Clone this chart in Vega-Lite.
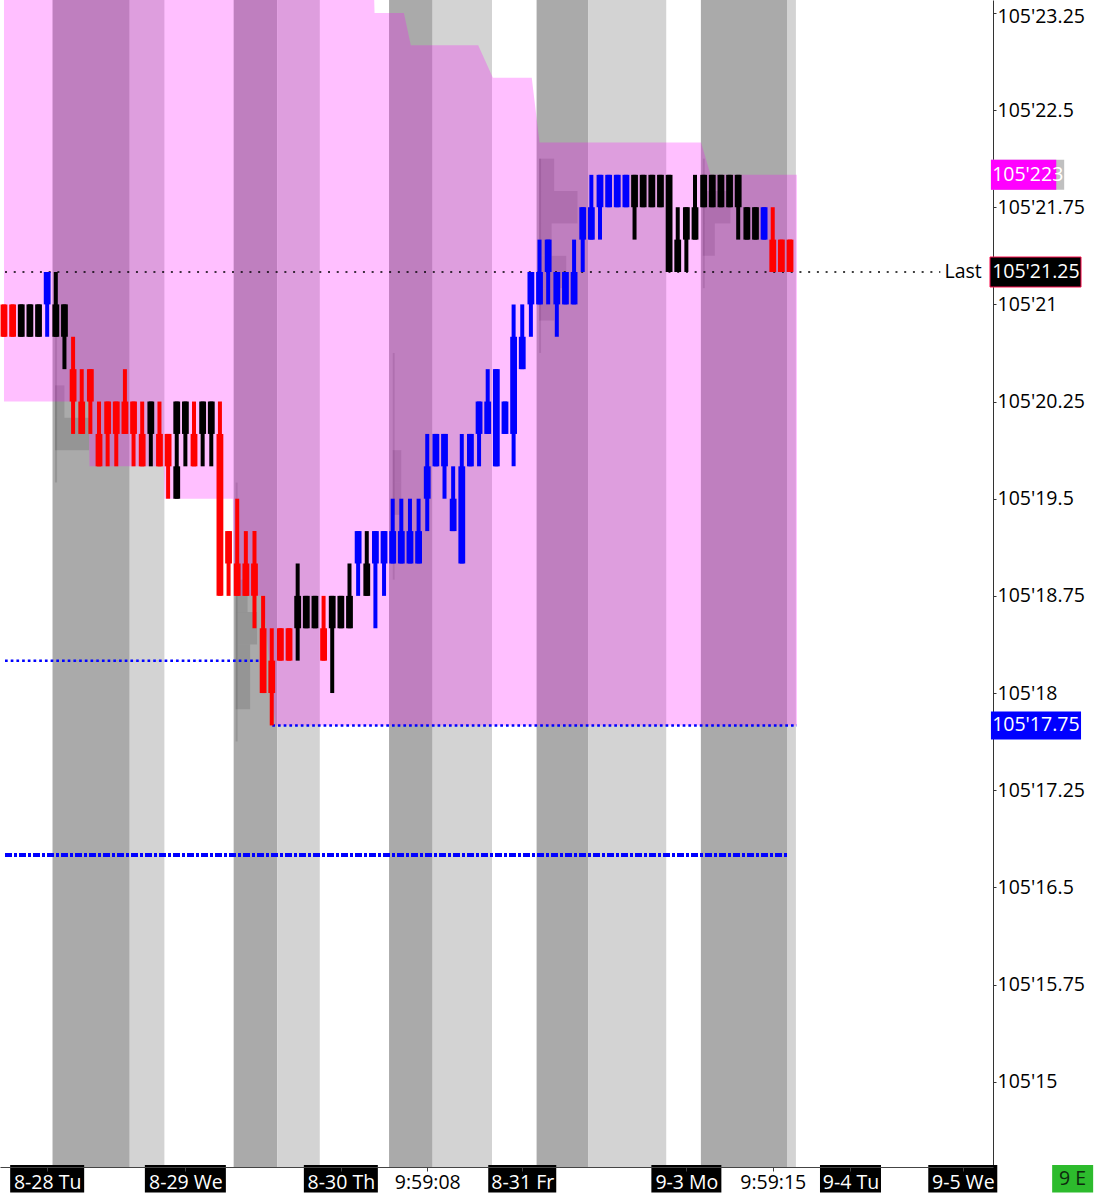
{
"$schema": "https://vega.github.io/schema/vega-lite/v6.json",
"width": 993,
"height": 1167,
"autosize": {"type": "none"},
"padding": {"left": 0, "top": 0, "right": 108, "bottom": 33},
"background": "white",
"config": {"view": {"stroke": null}, "font": "Open Sans"},
"datasets": {
"bands": [{"k0":5.62,"k1":14.56,"shade":"dark"},{"k0":14.56,"k1":18.57,"shade":"light"},{"k0":26.59,"k1":31.63,"shade":"dark"},{"k0":31.63,"k1":36.56,"shade":"light"},{"k0":44.58,"k1":49.63,"shade":"dark"},{"k0":49.63,"k1":56.5,"shade":"light"},{"k0":61.66,"k1":67.62,"shade":"dark"},{"k0":67.62,"k1":76.67,"shade":"light"},{"k0":80.68,"k1":90.65,"shade":"dark"},{"k0":90.65,"k1":91.68,"shade":"light"}],
"ghost": [{"k0":5.9,"k1":6.15,"p0":21.125,"p1":19.625},{"k0":5.9,"k1":7.0,"p0":20.375,"p1":20.125},{"k0":5.9,"k1":9.86,"p0":20.125,"p1":19.875},
{"k0":26.82,"k1":27.05,"p0":19.625,"p1":17.625},{"k0":26.82,"k1":28.2,"p0":18.875,"p1":18.625},{"k0":26.82,"k1":29.3,"p0":18.625,"p1":18.375},{"k0":26.82,"k1":28.5,"p0":18.375,"p1":18.125},{"k0":26.82,"k1":28.5,"p0":18.125,"p1":17.875},
{"k0":45.0,"k1":45.23,"p0":20.625,"p1":18.875},{"k0":45.0,"k1":46.0,"p0":19.875,"p1":19.625},{"k0":45.0,"k1":46.0,"p0":19.625,"p1":19.375},
{"k0":61.95,"k1":62.18,"p0":22.125,"p1":20.625},{"k0":61.95,"k1":63.7,"p0":22.125,"p1":21.875},{"k0":61.95,"k1":66.4,"p0":21.875,"p1":21.625},{"k0":61.95,"k1":63.4,"p0":21.625,"p1":21.375},{"k0":61.95,"k1":65.1,"p0":21.375,"p1":21.125},{"k0":61.95,"k1":63.7,"p0":21.125,"p1":20.875},
{"k0":80.9,"k1":81.13,"p0":22.125,"p1":21.125},{"k0":80.9,"k1":84.1,"p0":21.875,"p1":21.625},{"k0":80.9,"k1":82.3,"p0":21.625,"p1":21.375}],
"range": [{"k":0,"top":23.5,"bot":20.25},{"k":9.8,"top":23.5,"bot":20.25},{"k":9.9,"top":23.5,"bot":19.75},{"k":18.5,"top":23.5,"bot":19.75},{"k":18.6,"top":23.5,"bot":19.5},{"k":26.5,"top":23.5,"bot":19.5},{"k":26.6,"top":23.5,"bot":18.75},{"k":30.0,"top":23.5,"bot":18.75},{"k":31.4,"top":23.5,"bot":17.75},{"k":42.8,"top":23.5,"bot":17.75},{"k":42.9,"top":23.25,"bot":17.75},{"k":46.3,"top":23.25,"bot":17.75},{"k":47.1,"top":23,"bot":17.75},{"k":54.9,"top":23,"bot":17.75},{"k":56.6,"top":22.75,"bot":17.75},{"k":61.1,"top":22.75,"bot":17.75},{"k":62,"top":22.25,"bot":17.75},{"k":80.7,"top":22.25,"bot":17.75},{"k":81.8,"top":22,"bot":17.75},{"k":91.8,"top":22,"bot":17.75}],
"levels": [{"name":"last","k0":0.118,"k1":108.4,"p":21.25},{"name":"dot","k0":0.118,"k1":29.57,"p":18.25},{"name":"dot","k0":31.06,"k1":91.8,"p":17.75},{"name":"dashdot","k0":0.118,"k1":90.65,"p":16.75}],
"bars": [
{"k":0,"d":"dn","lo":20.75,"hi":21},{"k":1,"d":"dn","lo":20.75,"hi":21},{"k":2,"d":"nt","lo":20.75,"hi":21},{"k":3,"d":"nt","lo":20.75,"hi":21},{"k":4,"d":"nt","lo":20.75,"hi":21},
{"k":5,"d":"up","lo":20.75,"hi":21.25},{"k":6,"d":"nt","lo":20.75,"hi":21.25},{"k":7,"d":"nt","lo":20.5,"hi":21},{"k":8,"d":"dn","lo":20,"hi":20.75},{"k":9,"d":"dn","lo":20,"hi":20.5},
{"k":10,"d":"dn","lo":20,"hi":20.5},{"k":11,"d":"dn","lo":19.75,"hi":20.25},{"k":12,"d":"dn","lo":19.75,"hi":20.25},{"k":13,"d":"dn","lo":19.75,"hi":20.25},{"k":14,"d":"dn","lo":20,"hi":20.5},
{"k":15,"d":"dn","lo":19.75,"hi":20.25},{"k":16,"d":"dn","lo":19.75,"hi":20.25},{"k":17,"d":"nt","lo":19.75,"hi":20.25},{"k":18,"d":"dn","lo":19.75,"hi":20.25},{"k":19,"d":"dn","lo":19.5,"hi":20},
{"k":20,"d":"nt","lo":19.5,"hi":20.25},{"k":21,"d":"nt","lo":19.75,"hi":20.25},{"k":22,"d":"dn","lo":19.75,"hi":20.25},{"k":23,"d":"nt","lo":19.75,"hi":20.25},{"k":24,"d":"nt","lo":19.75,"hi":20.25},
{"k":25,"d":"dn","lo":18.75,"hi":20.25},{"k":26,"d":"dn","lo":18.75,"hi":19.25},{"k":27,"d":"dn","lo":18.75,"hi":19.5},{"k":28,"d":"dn","lo":18.75,"hi":19.25},{"k":29,"d":"dn","lo":18.5,"hi":19.25},
{"k":30,"d":"dn","lo":18,"hi":18.75},{"k":31,"d":"dn","lo":17.75,"hi":18.5},{"k":32,"d":"dn","lo":18.25,"hi":18.5},{"k":33,"d":"dn","lo":18.25,"hi":18.5},{"k":34,"d":"nt","lo":18.25,"hi":19},
{"k":35,"d":"nt","lo":18.5,"hi":18.75},{"k":36,"d":"nt","lo":18.5,"hi":18.75},{"k":37,"d":"dn","lo":18.25,"hi":18.75},{"k":38,"d":"nt","lo":18,"hi":18.75},{"k":39,"d":"nt","lo":18.5,"hi":18.75},
{"k":40,"d":"nt","lo":18.5,"hi":19},{"k":41,"d":"up","lo":18.75,"hi":19.25},{"k":42,"d":"nt","lo":18.75,"hi":19.25},{"k":43,"d":"up","lo":18.5,"hi":19.25},{"k":44,"d":"up","lo":18.75,"hi":19.25},
{"k":45,"d":"up","lo":19,"hi":19.5},{"k":46,"d":"up","lo":19,"hi":19.5},{"k":47,"d":"up","lo":19,"hi":19.5},{"k":48,"d":"up","lo":19,"hi":19.5},{"k":49,"d":"up","lo":19.25,"hi":20},
{"k":50,"d":"up","lo":19.75,"hi":20},{"k":51,"d":"up","lo":19.5,"hi":20},{"k":52,"d":"up","lo":19.25,"hi":19.75},{"k":53,"d":"up","lo":19,"hi":20},{"k":54,"d":"up","lo":19.75,"hi":20},
{"k":55,"d":"up","lo":19.75,"hi":20.25},{"k":56,"d":"up","lo":20,"hi":20.5},{"k":57,"d":"up","lo":19.75,"hi":20.5},{"k":58,"d":"up","lo":20,"hi":20.25},{"k":59,"d":"up","lo":19.75,"hi":21},
{"k":60,"d":"up","lo":20.5,"hi":21},{"k":61,"d":"up","lo":20.75,"hi":21.25},{"k":62,"d":"up","lo":21,"hi":21.5},{"k":63,"d":"up","lo":21,"hi":21.5},{"k":64,"d":"up","lo":20.75,"hi":21.25},
{"k":65,"d":"up","lo":21,"hi":21.25},{"k":66,"d":"up","lo":21,"hi":21.5},{"k":67,"d":"up","lo":21.25,"hi":21.75},{"k":68,"d":"up","lo":21.5,"hi":22},{"k":69,"d":"up","lo":21.5,"hi":22},
{"k":70,"d":"up","lo":21.75,"hi":22},{"k":71,"d":"up","lo":21.75,"hi":22},{"k":72,"d":"up","lo":21.75,"hi":22},{"k":73,"d":"nt","lo":21.5,"hi":22},{"k":74,"d":"nt","lo":21.75,"hi":22},
{"k":75,"d":"nt","lo":21.75,"hi":22},{"k":76,"d":"nt","lo":21.75,"hi":22},{"k":77,"d":"nt","lo":21.25,"hi":22},{"k":78,"d":"nt","lo":21.25,"hi":21.75},{"k":79,"d":"nt","lo":21.25,"hi":21.75},
{"k":80,"d":"nt","lo":21.5,"hi":22},{"k":81,"d":"nt","lo":21.75,"hi":22},{"k":82,"d":"nt","lo":21.75,"hi":22},{"k":83,"d":"nt","lo":21.75,"hi":22},{"k":84,"d":"nt","lo":21.75,"hi":22},
{"k":85,"d":"nt","lo":21.5,"hi":22},{"k":86,"d":"nt","lo":21.5,"hi":21.75},{"k":87,"d":"nt","lo":21.5,"hi":21.75},{"k":88,"d":"up","lo":21.5,"hi":21.75},{"k":89,"d":"dn","lo":21.25,"hi":21.75},
{"k":90,"d":"dn","lo":21.25,"hi":21.5},{"k":91,"d":"dn","lo":21.25,"hi":21.5}],
"bodies": [
{"k":0,"d":"dn","b0":21,"b1":20.75},{"k":1,"d":"dn","b0":21,"b1":20.75},{"k":2,"d":"nt","b0":21,"b1":20.75},{"k":3,"d":"nt","b0":21,"b1":20.75},{"k":4,"d":"nt","b0":21,"b1":20.75},
{"k":5,"d":"up","b0":21.25,"b1":21},{"k":6,"d":"nt","b0":21,"b1":20.75},{"k":7,"d":"nt","b0":21,"b1":20.75},{"k":8,"d":"dn","b0":20.5,"b1":20.25},{"k":9,"d":"dn","b0":20.25,"b1":20},
{"k":10,"d":"dn","b0":20.5,"b1":20.25},{"k":11,"d":"dn","b0":20,"b1":19.75},{"k":12,"d":"dn","b0":20.25,"b1":20},{"k":13,"d":"dn","b0":20.25,"b1":20},{"k":14,"d":"dn","b0":20.25,"b1":20},
{"k":15,"d":"dn","b0":20.25,"b1":20},{"k":16,"d":"dn","b0":20,"b1":19.75},{"k":17,"d":"nt","b0":20.25,"b1":20},{"k":18,"d":"dn","b0":20,"b1":19.75},{"k":19,"d":"dn","b0":20,"b1":19.75},
{"k":20,"d":"nt","b0":20.25,"b1":20},{"k":20,"d":"nt","b0":19.75,"b1":19.5},{"k":21,"d":"nt","b0":20.25,"b1":20},{"k":22,"d":"dn","b0":20,"b1":19.75},{"k":23,"d":"nt","b0":20.25,"b1":20},{"k":24,"d":"nt","b0":20.25,"b1":20},
{"k":25,"d":"dn","b0":20,"b1":18.75},{"k":26,"d":"dn","b0":19.25,"b1":19},{"k":27,"d":"dn","b0":19,"b1":18.75},{"k":28,"d":"dn","b0":19,"b1":18.75},{"k":29,"d":"dn","b0":19,"b1":18.75},
{"k":30,"d":"dn","b0":18.5,"b1":18},{"k":31,"d":"dn","b0":18.25,"b1":18},{"k":32,"d":"dn","b0":18.5,"b1":18.25},{"k":33,"d":"dn","b0":18.5,"b1":18.25},{"k":34,"d":"nt","b0":18.75,"b1":18.5},
{"k":35,"d":"nt","b0":18.75,"b1":18.5},{"k":36,"d":"nt","b0":18.75,"b1":18.5},{"k":37,"d":"dn","b0":18.5,"b1":18.25},{"k":38,"d":"nt","b0":18.75,"b1":18.5},{"k":39,"d":"nt","b0":18.75,"b1":18.5},
{"k":40,"d":"nt","b0":18.75,"b1":18.5},{"k":41,"d":"up","b0":19.25,"b1":19},{"k":42,"d":"nt","b0":19,"b1":18.75},{"k":43,"d":"up","b0":19.25,"b1":19},{"k":44,"d":"up","b0":19.25,"b1":19},
{"k":45,"d":"up","b0":19.25,"b1":19},{"k":46,"d":"up","b0":19.25,"b1":19},{"k":47,"d":"up","b0":19.25,"b1":19},{"k":48,"d":"up","b0":19.25,"b1":19},{"k":49,"d":"up","b0":19.75,"b1":19.5},
{"k":50,"d":"up","b0":20,"b1":19.75},{"k":51,"d":"up","b0":20,"b1":19.75},{"k":52,"d":"up","b0":19.5,"b1":19.25},{"k":53,"d":"up","b0":19.75,"b1":19},{"k":54,"d":"up","b0":20,"b1":19.75},
{"k":55,"d":"up","b0":20.25,"b1":20},{"k":56,"d":"up","b0":20.25,"b1":20},{"k":57,"d":"up","b0":20.5,"b1":19.75},{"k":58,"d":"up","b0":20.25,"b1":20},{"k":59,"d":"up","b0":20.75,"b1":20},
{"k":60,"d":"up","b0":20.75,"b1":20.5},{"k":61,"d":"up","b0":21.25,"b1":21},{"k":62,"d":"up","b0":21.25,"b1":21},{"k":63,"d":"up","b0":21.5,"b1":21.25},{"k":64,"d":"up","b0":21.25,"b1":21},
{"k":65,"d":"up","b0":21.25,"b1":21},{"k":66,"d":"up","b0":21.25,"b1":21},{"k":67,"d":"up","b0":21.75,"b1":21.5},{"k":68,"d":"up","b0":21.75,"b1":21.5},{"k":69,"d":"up","b0":22,"b1":21.75},
{"k":70,"d":"up","b0":22,"b1":21.75},{"k":71,"d":"up","b0":22,"b1":21.75},{"k":72,"d":"up","b0":22,"b1":21.75},{"k":73,"d":"nt","b0":22,"b1":21.75},{"k":74,"d":"nt","b0":22,"b1":21.75},
{"k":75,"d":"nt","b0":22,"b1":21.75},{"k":76,"d":"nt","b0":22,"b1":21.75},{"k":77,"d":"nt","b0":22,"b1":21.25},{"k":78,"d":"nt","b0":21.5,"b1":21.25},{"k":79,"d":"nt","b0":21.75,"b1":21.5},
{"k":80,"d":"nt","b0":21.75,"b1":21.5},{"k":81,"d":"nt","b0":22,"b1":21.75},{"k":82,"d":"nt","b0":22,"b1":21.75},{"k":83,"d":"nt","b0":22,"b1":21.75},{"k":84,"d":"nt","b0":22,"b1":21.75},
{"k":85,"d":"nt","b0":22,"b1":21.75},{"k":86,"d":"nt","b0":21.75,"b1":21.5},{"k":87,"d":"nt","b0":21.75,"b1":21.5},{"k":88,"d":"up","b0":21.75,"b1":21.5},{"k":89,"d":"dn","b0":21.5,"b1":21.25},
{"k":90,"d":"dn","b0":21.5,"b1":21.25},{"k":91,"d":"dn","b0":21.5,"b1":21.25}],
"xlab": [{"k":5,"label":"8-28 Tu","t":"date"},{"k":21,"label":"8-29 We","t":"date"},{"k":39,"label":"8-30 Th","t":"date"},{"k":49,"label":"9:59:08","t":"time"},{"k":60,"label":"8-31 Fr","t":"date"},{"k":79,"label":"9-3 Mo","t":"date"},{"k":89,"label":"9:59:15","t":"time"},{"k":98,"label":"9-4 Tu","t":"date"},{"k":111,"label":"9-5 We","t":"date"},{"k":123.72,"label":"9 E","t":"green"}],
"tags": [{"p":21.25,"label":"105'21.25","kind":"last"},{"p":17.75,"label":"105'17.75","kind":"low"},{"p":22,"label":"105'223","kind":"high"}]
},
"layer": [
{"data": {"name": "bands"}, "mark": {"type": "rect"},
 "encoding": {
  "x": {"field": "k0", "type": "quantitative", "scale": {"domain": [0.118, 113.92], "nice": false, "zero": false},
   "axis": {"orient": "bottom", "values": [5,21,39,49,60,79,89,98,111],
    "labelExpr": "datum.value == 5 ? '8-28 Tu' : datum.value == 21 ? '8-29 We' : datum.value == 39 ? '8-30 Th' : datum.value == 49 ? '9:59:08' : datum.value == 60 ? '8-31 Fr' : datum.value == 79 ? '9-3 Mo' : datum.value == 89 ? '9:59:15' : datum.value == 98 ? '9-4 Tu' : '9-5 We'",
    "title": null, "grid": false, "zindex": 1, "labelFont": "Open Sans", "labelFontSize": 19.5,
    "labelColor": {"condition": {"test": "datum.value == 49 || datum.value == 89", "value": "black"}, "value": "white"},
    "labelPadding": 2, "tickSize": 4, "tickColor": "#444", "domainColor": "#444", "labelFlush": false, "labelOverlap": false, "labelBound": false}},
  "x2": {"field": "k1"},
  "fill": {"field": "shade", "type": "nominal", "scale": {"domain": ["dark","light","last","low","high"], "range": ["#aaaaaa","#d3d3d3","#000000","#0000ff","#ff00ff"]}, "legend": null}
 }},
{"data": {"name": "ghost"}, "mark": {"type": "rect", "color": "#000000", "opacity": 0.12},
 "encoding": {
  "x": {"field": "k0", "type": "quantitative"},
  "x2": {"field": "k1"},
  "y": {"field": "p0", "type": "quantitative", "scale": {"domain": [14.38, 23.311], "nice": false, "zero": false},
   "axis": {"orient": "right", "values": [15,15.75,16.5,17.25,18,18.75,19.5,20.25,21,21.75,22.5,23.25],
    "labelExpr": "\"105'\" + datum.value", "title": null, "grid": false, "labelFont": "Open Sans", "labelFontSize": 19.5, "labelColor": "black",
    "labelOffset": {"condition": {"test": "datum.value == 23.25", "value": 4}, "value": 0},
    "tickSize": 3, "tickColor": "#333", "domainColor": "#333", "labelPadding": 1, "labelFlush": false, "labelOverlap": false, "labelBound": false}},
  "y2": {"field": "p1"}
 }},
{"data": {"name": "range"}, "mark": {"type": "area", "color": "#ff00ff", "opacity": 0.25, "clip": true, "orient": "vertical", "interpolate": "linear"},
 "encoding": {
  "x": {"field": "k", "type": "quantitative"},
  "y": {"field": "top", "type": "quantitative"},
  "y2": {"field": "bot"}
 }},
{"data": {"name": "levels"}, "transform": [{"filter": "datum.name == 'last'"}], "mark": {"type": "rule", "color": "#000000", "strokeWidth": 1.5, "strokeDash": [2, 6.73]},
 "encoding": {"x": {"field": "k0", "type": "quantitative"}, "x2": {"field": "k1"}, "y": {"field": "p", "type": "quantitative"}}},
{"data": {"name": "levels"}, "transform": [{"filter": "datum.name == 'dot'"}], "mark": {"type": "rule", "color": "#0000ff", "strokeWidth": 2.5, "strokeDash": [2.7, 3]},
 "encoding": {"x": {"field": "k0", "type": "quantitative"}, "x2": {"field": "k1"}, "y": {"field": "p", "type": "quantitative"}}},
{"data": {"name": "levels"}, "transform": [{"filter": "datum.name == 'dashdot'"}], "mark": {"type": "rule", "color": "#0000ff", "strokeWidth": 4, "strokeDash": [7, 2, 3, 2]},
 "encoding": {"x": {"field": "k0", "type": "quantitative"}, "x2": {"field": "k1"}, "y": {"field": "p", "type": "quantitative"}}},
{"data": {"name": "bars"}, "mark": {"type": "bar", "width": 4, "orient": "vertical", "clip": true},
 "encoding": {
  "x": {"field": "k", "type": "quantitative"},
  "y": {"field": "lo", "type": "quantitative"},
  "y2": {"field": "hi"},
  "color": {"field": "d", "type": "nominal", "scale": {"domain": ["up","dn","nt"], "range": ["#0000ff","#ff0000","#000000"]}, "legend": null}
 }},
{"data": {"name": "bodies"}, "mark": {"type": "bar", "width": 6.8, "orient": "vertical", "clip": true},
 "encoding": {
  "x": {"field": "k", "type": "quantitative"},
  "y": {"field": "b0", "type": "quantitative"},
  "y2": {"field": "b1"},
  "color": {"field": "d", "type": "nominal", "legend": null}
 }},
{"data": {"name": "xlab"}, "transform": [{"filter": "datum.t == 'date'"}], "mark": {"type": "bar", "color": "#000000", "orient": "vertical", "clip": false},
 "encoding": {
  "x": {"field": "k", "type": "quantitative"},
  "y": {"datum": 14.357, "type": "quantitative"},
  "y2": {"datum": 14.145},
  "size": {"field": "label", "type": "ordinal", "scale": {"type": "ordinal", "domain": ["8-28 Tu","8-29 We","8-30 Th","8-31 Fr","9-3 Mo","9-4 Tu","9-5 We"], "range": [74, 81, 74, 68, 70, 61, 69]}, "legend": null}
 }},
{"data": {"name": "xlab"}, "transform": [{"filter": "datum.t == 'green'"}], "mark": {"type": "bar", "color": "#2dbb2d", "orient": "vertical", "width": 41, "clip": false},
 "encoding": {
  "x": {"field": "k", "type": "quantitative"},
  "y": {"datum": 14.357, "type": "quantitative"},
  "y2": {"datum": 14.145}
 }},
{"data": {"name": "xlab"}, "transform": [{"filter": "datum.t == 'green'"}], "mark": {"type": "text", "color": "#0d2a0d", "fontSize": 19.5, "font": "Open Sans", "align": "center", "baseline": "middle", "clip": false},
 "encoding": {
  "x": {"field": "k", "type": "quantitative"},
  "y": {"datum": 14.25, "type": "quantitative"},
  "text": {"field": "label"}
 }},
{"data": {"name": "tags"}, "transform": [{"filter": "datum.kind == 'last'"}], "mark": {"type": "bar", "orient": "horizontal", "height": 30, "color": "#000000", "stroke": "#ff1050", "strokeWidth": 1, "clip": false},
 "encoding": {
  "x": {"datum": 114.15, "type": "quantitative"},
  "x2": {"datum": 124.69},
  "y": {"field": "p", "type": "quantitative"}
 }},
{"data": {"name": "tags"}, "transform": [{"filter": "datum.kind == 'low'"}], "mark": {"type": "bar", "orient": "horizontal", "height": 28, "color": "#0000ff", "clip": false},
 "encoding": {
  "x": {"datum": 114.26, "type": "quantitative"},
  "x2": {"datum": 124.69},
  "y": {"field": "p", "type": "quantitative"}
 }},
{"data": {"name": "tags"}, "transform": [{"filter": "datum.kind == 'high'"}], "mark": {"type": "bar", "orient": "horizontal", "height": 30, "color": "#c0c0c0", "clip": false},
 "encoding": {
  "x": {"datum": 114.26, "type": "quantitative"},
  "x2": {"datum": 122.74},
  "y": {"field": "p", "type": "quantitative"}
 }},
{"data": {"name": "tags"}, "transform": [{"filter": "datum.kind == 'high'"}], "mark": {"type": "bar", "orient": "horizontal", "height": 30, "color": "#ff00ff", "clip": false},
 "encoding": {
  "x": {"datum": 114.26, "type": "quantitative"},
  "x2": {"datum": 121.82},
  "y": {"field": "p", "type": "quantitative"}
 }},
{"data": {"name": "tags"}, "mark": {"type": "text", "color": "white", "fontSize": 19.5, "font": "Open Sans", "align": "left", "baseline": "middle", "clip": false},
 "encoding": {
  "x": {"datum": 114.4, "type": "quantitative"},
  "y": {"field": "p", "type": "quantitative"},
  "text": {"field": "label"}
 }},
{"data": {"name": "tags"}, "transform": [{"filter": "datum.kind == 'last'"}], "mark": {"type": "text", "color": "black", "fontSize": 19.5, "font": "Open Sans", "align": "right", "baseline": "middle", "clip": false},
 "encoding": {
  "x": {"datum": 113.2, "type": "quantitative"},
  "y": {"field": "p", "type": "quantitative"},
  "text": {"value": "Last"}
 }}
]
}
